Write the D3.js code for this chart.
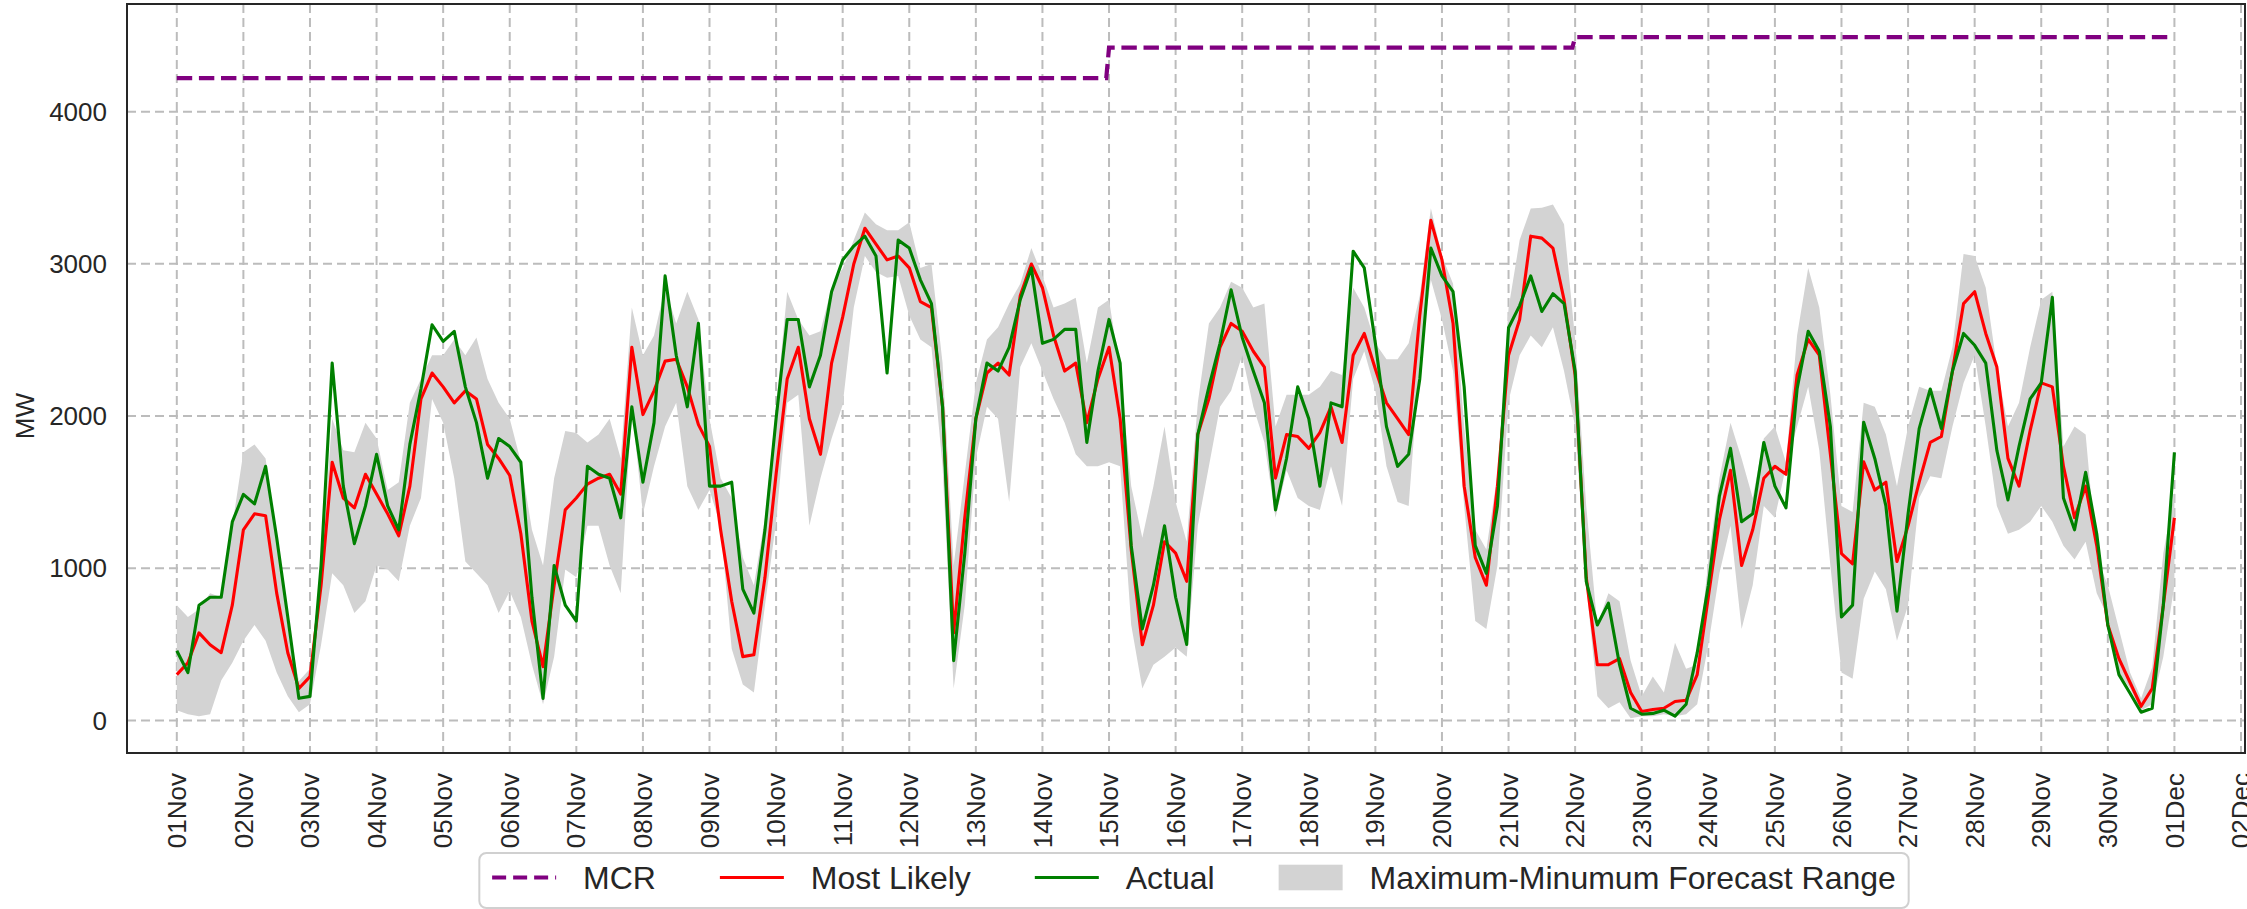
<!DOCTYPE html>
<html>
<head>
<meta charset="utf-8">
<script src="https://cdn.jsdelivr.net/npm/d3@7"></script>
<style>
  body { margin: 0; background: #fff; }
  svg { display: block; font-family: "Liberation Sans", Arial, sans-serif; }
</style>
</head>
<body>
<svg id="chart"></svg>
<script>
// 4-hourly readings, 01Nov 00:00 -> 01Dec 00:00 (181 points, MW)
const actual = [
  459, 315, 758, 810, 810, 1305,
  1486, 1423, 1670, 1201, 680, 146,
  159, 1019, 2348, 1540, 1162, 1410,
  1749, 1410, 1253, 1814, 2178, 2600,
  2491, 2557, 2192, 1957, 1592, 1853,
  1800, 1697, 810, 146, 1019, 758,
  654, 1670, 1618, 1592, 1332, 2061,
  1566, 1957, 2921, 2400, 2061, 2609,
  1540, 1540, 1566, 863, 706, 1253,
  1983, 2635, 2635, 2192, 2400, 2817,
  3026, 3117, 3182, 3052, 2283, 3156,
  3104, 2895, 2739, 2061, 394, 1097,
  1983, 2348, 2296, 2452, 2765, 2973,
  2478, 2504, 2570, 2570, 1827, 2296,
  2635, 2348, 1149, 602, 889, 1280,
  810, 500, 1879, 2192, 2478, 2830,
  2517, 2296, 2087, 1384, 1723, 2192,
  1983, 1540, 2087, 2061, 3083, 2973,
  2478, 1931, 1670, 1749, 2244, 3104,
  2921, 2817, 2192, 1149, 967, 1410,
  2580, 2726, 2921, 2687, 2804, 2739,
  2296, 915, 628, 771, 367, 81,
  42, 47, 68, 29, 107, 446,
  889, 1475, 1788, 1306, 1358, 1827,
  1540, 1397, 2178, 2557, 2426, 1931,
  680, 758, 1960, 1722, 1410, 719,
  1358, 1918, 2178, 1918, 2296, 2543,
  2465, 2348, 1775, 1449, 1801, 2113,
  2218, 2780, 1462, 1253, 1631, 1227,
  628, 302, 180, 55, 81, 758,
  1762
];

const mostLikely = [
  302, 380, 576, 498, 446, 758,
  1253, 1358, 1345, 837, 446, 211,
  289, 889, 1697, 1462, 1397, 1618,
  1488, 1358, 1214, 1540, 2113, 2283,
  2192, 2087, 2166, 2113, 1814, 1722,
  1610, 1227, 654, 354, 889, 1384,
  1462, 1553, 1592, 1618, 1488, 2452,
  2010, 2166, 2361, 2374, 2192, 1944,
  1801, 1253, 784, 420, 433, 941,
  1618, 2244, 2452, 1983, 1749, 2348,
  2650, 2999, 3234, 3130, 3026, 3052,
  2974, 2752, 2713, 2061, 576, 1332,
  1983, 2283, 2348, 2270, 2791, 2999,
  2843, 2530, 2296, 2348, 1957, 2244,
  2452, 1983, 1123, 498, 758, 1175,
  1100, 915, 1879, 2113, 2452, 2609,
  2557, 2426, 2322, 1592, 1879, 1866,
  1788, 1892, 2061, 1827, 2400, 2543,
  2309, 2087, 1983, 1879, 2661, 3286,
  3026, 2609, 1540, 1071, 889, 1540,
  2400, 2635, 3182, 3169, 3104, 2765,
  2270, 941, 367, 367, 407, 185,
  60, 73, 81, 125, 133, 302,
  811, 1319, 1644, 1019, 1253, 1592,
  1670, 1618, 2270, 2504, 2400, 1749,
  1097, 1030, 1700, 1514, 1566, 1045,
  1279, 1566, 1827, 1866, 2296, 2739,
  2817, 2543, 2322, 1722, 1540, 1905,
  2218, 2192, 1670, 1332, 1540, 1149,
  628, 407, 250, 94, 211, 758,
  1332
];

const forecastMax = [
  758, 680, 732, 836, 810, 1280,
  1762, 1814, 1722, 1175, 628, 260,
  340, 993, 1983, 1775, 1762, 1957,
  1853, 1514, 1566, 2087, 2244, 2400,
  2400, 2504, 2400, 2517, 2244, 2087,
  1983, 1700, 1253, 1019, 1592, 1902,
  1889, 1827, 1879, 1983, 1722, 2713,
  2400, 2530, 2843, 2609, 2817, 2635,
  1983, 1592, 1462, 1071, 889, 1332,
  2061, 2817, 2635, 2530, 2557, 2843,
  2970, 3156, 3338, 3260, 3221, 3221,
  3273, 2973, 2999, 2348, 1019, 1618,
  2218, 2504, 2583, 2739, 2869, 3104,
  2921, 2713, 2739, 2778, 2348, 2713,
  2765, 2296, 1540, 1201, 1540, 1931,
  1435, 1175, 2087, 2609, 2713, 2882,
  2843, 2713, 2739, 1931, 2140, 2140,
  2140, 2192, 2296, 2270, 2843, 2713,
  2478, 2374, 2374, 2478, 2791, 3365,
  3052, 2869, 1931, 1253, 1123, 1618,
  2710, 3156, 3364, 3369, 3390, 3260,
  2504, 1410, 628, 837, 784, 394,
  159, 289, 185, 511, 341, 367,
  1045, 1592, 1957, 1722, 1462, 1853,
  1931, 1696, 2530, 2973, 2713, 2140,
  1410, 1370, 2087, 2061, 1879, 1540,
  1931, 2192, 2166, 2166, 2452, 3065,
  3052, 2843, 2322, 1931, 2087, 2452,
  2765, 2817, 1801, 1931, 1879, 1071,
  889, 602, 315, 146, 350, 1100,
  1500
];

const forecastMin = [
  68, 42, 29, 42, 263, 380,
  524, 628, 524, 315, 159, 55,
  107, 498, 967, 889, 706, 784,
  1019, 993, 915, 1280, 1462, 2113,
  1957, 1592, 1045, 967, 889, 706,
  850, 680, 367, 107, 420, 993,
  941, 1280, 1280, 1019, 837, 2061,
  1358, 1670, 1931, 2087, 1540, 1384,
  1514, 1280, 472, 237, 185, 758,
  1306, 2087, 2140, 1280, 1592, 1853,
  2075, 2713, 3052, 2947, 2908, 2921,
  2661, 2504, 2452, 1670, 211, 758,
  1723, 2061, 1983, 1436, 2322, 2478,
  2296, 2113, 1957, 1749, 1670, 1670,
  1697, 1670, 628, 211, 367, 420,
  480, 420, 1280, 1670, 2061, 2166,
  2400, 2061, 1827, 1332, 1644, 1462,
  1410, 1384, 1670, 1410, 2244, 2426,
  2166, 1670, 1436, 1410, 2374, 2895,
  2635, 2296, 1410, 654, 602, 1019,
  2100, 2400, 2530, 2452, 2583, 2296,
  1931, 889, 159, 81, 120, 16,
  29, 29, 42, 29, 42, 107,
  498, 967, 1280, 602, 889, 1410,
  1332, 1670, 1931, 2192, 1775, 1019,
  315, 275, 800, 980, 863, 524,
  758, 1462, 1605, 1592, 1931, 2218,
  2400, 1931, 1410, 1227, 1253, 1306,
  1410, 1306, 1149, 1058, 1175, 837,
  680, 315, 211, 68, 107, 420,
  889
];

// MCR steps (start of each level) and end of series
const mcrStart = ["2023-11-01T00:00", "2023-11-15T00:00", "2023-11-22T00:00"];
const mcrLevel = [4220, 4420, 4490];
const mcrEnd = "2023-11-30T23:00";

const yTicks = [0, 1000, 2000, 3000, 4000];
const legendLabels = ["MCR", "Most Likely", "Actual", "Maximum-Minumum Forecast Range"];

const W = 2247, H = 909;
const margin = { top: 4, right: 2, bottom: 156, left: 127 };
const width = W - margin.left - margin.right,
  height = H - margin.top - margin.bottom;

const parse = d3.timeParse("%Y-%m-%dT%H:%M");
const start = parse("2023-11-01T00:00");
const HOUR = 3600 * 1000, DAY = 24 * HOUR;

const times = actual.map((d, i) => new Date(+start + i * 4 * HOUR));
const series = times.map((t, i) => ({
  t,
  actual: actual[i],
  likely: mostLikely[i],
  hi: forecastMax[i],
  lo: forecastMin[i]
}));

// MCR as an hourly-style step line
const mcrPts = [];
mcrStart.forEach((s, k) => {
  const a = parse(s);
  const b = k < mcrStart.length - 1 ? new Date(+parse(mcrStart[k + 1]) - HOUR) : parse(mcrEnd);
  mcrPts.push({ t: a, v: mcrLevel[k] }, { t: b, v: mcrLevel[k] });
});

const svg = d3.select("#chart").attr("width", W).attr("height", H);
const g = svg.append("g").attr("transform", `translate(${margin.left},${margin.top})`);

const x = d3
  .scaleTime()
  .domain([new Date(+start - 0.748 * DAY), new Date(+start + 31.06 * DAY)])
  .range([0, width]);

const y = d3.scaleLinear().domain([-213, 4707]).range([height, 0]);

const dayTicks = d3.timeDay.range(start, new Date(+start + 31.5 * DAY));

g.append("defs")
  .append("clipPath")
  .attr("id", "clip")
  .append("rect")
  .attr("width", width)
  .attr("height", height);

// grid
const grid = g.append("g").attr("stroke", "#bcbcbc").attr("stroke-width", 2).attr("stroke-dasharray", "9,5");
grid
  .selectAll("line.v")
  .data(dayTicks)
  .join("line")
  .attr("x1", (d) => x(d))
  .attr("x2", (d) => x(d))
  .attr("y1", 0)
  .attr("y2", height);
grid
  .selectAll("line.h")
  .data(yTicks)
  .join("line")
  .attr("x1", 0)
  .attr("x2", width)
  .attr("y1", (d) => y(d))
  .attr("y2", (d) => y(d));

const plot = g.append("g").attr("clip-path", "url(#clip)");

// forecast range
plot
  .append("path")
  .datum(series)
  .attr("fill", "#d3d3d3")
  .attr(
    "d",
    d3
      .area()
      .x((d) => x(d.t))
      .y0((d) => y(d.lo))
      .y1((d) => y(d.hi))
  );

// MCR
plot
  .append("path")
  .datum(mcrPts)
  .attr("fill", "none")
  .attr("stroke", "#800080")
  .attr("stroke-width", 4.2)
  .attr("stroke-dasharray", "15.4,6.7")
  .attr(
    "d",
    d3
      .line()
      .x((d) => x(d.t))
      .y((d) => y(d.v))
  );

// most likely
plot
  .append("path")
  .datum(series)
  .attr("fill", "none")
  .attr("stroke", "#ff0000")
  .attr("stroke-width", 3.1)
  .attr("stroke-linejoin", "round")
  .attr(
    "d",
    d3
      .line()
      .x((d) => x(d.t))
      .y((d) => y(d.likely))
  );

// actual
plot
  .append("path")
  .datum(series)
  .attr("fill", "none")
  .attr("stroke", "#008000")
  .attr("stroke-width", 3.1)
  .attr("stroke-linejoin", "round")
  .attr(
    "d",
    d3
      .line()
      .x((d) => x(d.t))
      .y((d) => y(d.actual))
  );

// frame
g.append("rect")
  .attr("width", width)
  .attr("height", height)
  .attr("fill", "none")
  .attr("stroke", "#262626")
  .attr("stroke-width", 2);

// y tick labels
g.append("g")
  .selectAll("text")
  .data(yTicks)
  .join("text")
  .attr("x", -20)
  .attr("y", (d) => y(d))
  .attr("dy", "0.35em")
  .attr("text-anchor", "end")
  .attr("font-size", "26px")
  .attr("fill", "#262626")
  .text((d) => d);

// x tick labels
const fmt = d3.timeFormat("%d%b");
g.append("g")
  .selectAll("text")
  .data(dayTicks)
  .join("text")
  .attr("transform", (d) => `translate(${x(d)},${height + 20}) rotate(-90)`)
  .attr("dy", "0.35em")
  .attr("text-anchor", "end")
  .attr("font-size", "26px")
  .attr("fill", "#262626")
  .text((d) => fmt(d));

// y label
svg
  .append("text")
  .attr("transform", `translate(25,${margin.top + y(2000)}) rotate(-90)`)
  .attr("dy", "0.35em")
  .attr("text-anchor", "middle")
  .attr("font-size", "26px")
  .attr("fill", "#262626")
  .text("MW");

// Legend (matplotlib-like spacing in font units)
const fs = 32;
const legend = svg.append("g");
const box = legend
  .append("rect")
  .attr("fill", "#fff")
  .attr("stroke", "#d0d0d0")
  .attr("stroke-width", 2)
  .attr("rx", 7);

const items = legend.append("g");
let cx = 0;
legendLabels.forEach((label, i) => {
  const it = items.append("g").attr("transform", `translate(${cx},0)`);
  if (i === 0) {
    it.append("line").attr("x1", 0).attr("x2", 2 * fs).attr("stroke", "#800080")
      .attr("stroke-width", 4.2).attr("stroke-dasharray", "14,7");
  } else if (i === 1 || i === 2) {
    it.append("line").attr("x1", 0).attr("x2", 2 * fs)
      .attr("stroke", i === 1 ? "#ff0000" : "#008000").attr("stroke-width", 3.1);
  } else {
    it.append("rect").attr("x", 0).attr("y", -0.4 * fs).attr("width", 2 * fs)
      .attr("height", 0.8 * fs).attr("fill", "#d3d3d3");
  }
  const t = it
    .append("text")
    .attr("x", 2.84 * fs)
    .attr("dy", "0.35em")
    .attr("font-size", fs + "px")
    .attr("fill", "#262626")
    .text(label);
  cx += 2.84 * fs + t.node().getComputedTextLength() + 2 * fs;
});
const itemsW = cx - 2 * fs;
const pad = 0.4 * fs;
const boxW = itemsW + 2 * pad, boxH = 55;
const legendX = 1194 - boxW / 2;
const legendY = 853;
legend.attr("transform", `translate(${legendX},${legendY})`);
box.attr("width", boxW).attr("height", boxH);
items.attr("transform", `translate(${pad},24.5)`);
</script>
</body>
</html>
